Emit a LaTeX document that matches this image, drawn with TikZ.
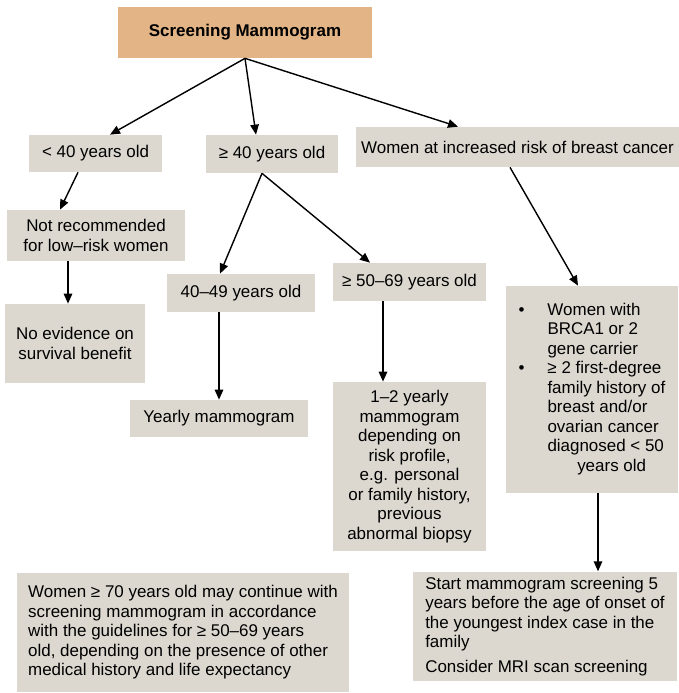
\documentclass[tikz,border=0pt]{standalone}
\usepackage{fontspec}
\setmainfont{Liberation Sans}
\usepackage{xcolor}
\usepackage{tikz}
\usetikzlibrary{arrows.meta}

\definecolor{boxgray}{HTML}{DCD8D0}
\definecolor{boxorange}{HTML}{E3B586}

\begin{document}
\begin{tikzpicture}[
  block/.style={fill=boxgray, inner sep=3pt, align=center,
    font=\fontsize{9.65}{11.1}\selectfont},
  arr/.style={-{Triangle[length=2mm,width=1.7mm]}, line width=0.8pt}
]
\useasboundingbox (0,0) rectangle (13.58,-13.86);

% Top level
\node[block, fill=boxorange, minimum width=5.08cm, minimum height=1.02cm,
  font=\fontsize{9.65}{11.1}\selectfont\bfseries] (screen) at (4.90,-0.65)
  {Screening Mammogram};

% Age groups
\node[block, minimum width=2.66cm, minimum height=0.74cm] (under40) at (1.91,-3.07)
  {< 40 years old};
\node[block, minimum width=2.64cm, minimum height=0.76cm] (over40) at (5.44,-3.08)
  {≥ 40 years old};
\node[block, minimum width=6.38cm, minimum height=0.80cm] (risk) at (10.35,-2.94)
  {Women at increased risk of breast cancer};

% Under 40
\node[block, minimum width=3.56cm, minimum height=1.02cm] (notrec) at (1.92,-4.71)
  {Not recommended\\for low–risk women};
\node[block, minimum width=2.80cm, minimum height=1.58cm] (noevid) at (1.50,-6.87)
  {No evidence on\\survival benefit};

% 40 and over
\node[block, minimum width=2.96cm, minimum height=0.76cm] (age4049) at (4.82,-5.86)
  {40–49 years old};
\node[block, minimum width=3.56cm, minimum height=0.74cm] (yearly) at (4.38,-8.37)
  {Yearly mammogram};
\node[block, minimum width=3.06cm, minimum height=0.76cm] (age5069) at (8.19,-5.64)
  {≥ 50–69 years old};
\node[block, minimum width=3.06cm, minimum height=3.38cm] (plan) at (8.19,-9.33)
  {1–2 yearly\\mammogram\\depending on\\risk profile,\\e.g. personal\\
   or family history,\\previous\\abnormal biopsy};

% Increased risk
\node[block, minimum width=3.44cm, minimum height=4.14cm] (criteria) at (11.84,-7.79)
  {\begin{tabular}{@{}l@{\hspace{13pt}}l@{}}
     \textbullet & Women with\\
                 & BRCA1 or 2\\
                 & gene carrier\\
     \textbullet & ≥ 2 first-degree\\
                 & family history of\\
                 & breast and/or\\
                 & ovarian cancer\\
                 & diagnosed < 50\\
                 & \multicolumn{1}{c@{}}{years old}
   \end{tabular}};
\node[block, align=left, minimum width=5.28cm, minimum height=2.06cm] (start) at (10.90,-12.53)
  {Start mammogram screening 5\\years before the age of onset of\\
   the youngest index case in the\\family\\[3pt]Consider MRI scan screening};

% Note on older women
\node[block, align=left, minimum width=6.64cm, minimum height=2.38cm] (older) at (3.66,-12.65)
  {Women ≥ 70 years old may continue with\\screening mammogram in accordance\\
   with the guidelines for ≥ 50–69 years\\old, depending on the presence of other\\
   medical history and life expectancy};

% Arrows
\draw[arr] (screen.south) -- ([xshift=0.29cm]under40.north);
\draw[arr] (screen.south) -- ([xshift=-0.32cm]over40.north);
\draw[arr] (screen.south) -- ([xshift=-1.19cm]risk.north);
\draw[arr] ([xshift=-0.35cm]under40.south) -- ([xshift=-0.72cm]notrec.north);
\draw[arr] ([xshift=-0.56cm]notrec.south) -- ([xshift=-0.56cm]notrec.south |- noevid.north);
\draw[arr] ([xshift=-0.2cm]over40.south) -- ([xshift=-0.42cm]age4049.north);
\draw[arr] ([xshift=-0.2cm]over40.south) -- ([xshift=-0.79cm]age5069.north);
\draw[arr] (yearly.north |- age4049.south) -- (yearly.north);
\draw[arr] ([xshift=-0.53cm]age5069.south) -- ([xshift=-0.53cm]plan.north);
\draw[arr] ([xshift=-0.15cm]risk.south) -- ([xshift=-0.28cm]criteria.north);
\draw[arr] ([xshift=0.12cm]criteria.south) -- ([xshift=0.12cm]criteria.south |- start.north);

\end{tikzpicture}
\end{document}
